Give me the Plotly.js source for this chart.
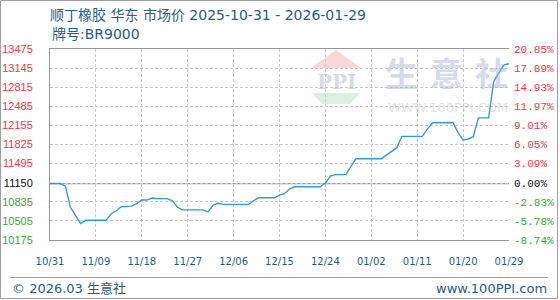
<!DOCTYPE html>
<html><head><meta charset="utf-8">
<script src="https://cdn.plot.ly/plotly-3.0.1.min.js"></script>
<style>html,body{margin:0;padding:0;background:#fff}#chart{width:560px;height:300px}</style>
</head><body><div id="chart"></div>
<script>
// ---- data ----
const dates = ['2025-10-31','2025-11-02','2025-11-03','2025-11-04','2025-11-05','2025-11-06','2025-11-07','2025-11-11','2025-11-12','2025-11-13','2025-11-14','2025-11-16','2025-11-17','2025-11-18','2025-11-19','2025-11-20','2025-11-21','2025-11-23','2025-11-24','2025-11-25','2025-11-26','2025-11-30','2025-12-01','2025-12-02','2025-12-03','2025-12-04','2025-12-09','2025-12-10','2025-12-11','2025-12-14','2025-12-15','2025-12-16','2025-12-17','2025-12-18','2025-12-23','2025-12-24','2025-12-25','2025-12-26','2025-12-28','2025-12-29','2025-12-30','2026-01-04','2026-01-05','2026-01-06','2026-01-07','2026-01-08','2026-01-12','2026-01-13','2026-01-14','2026-01-18','2026-01-19','2026-01-20','2026-01-21','2026-01-22','2026-01-23','2026-01-25','2026-01-26','2026-01-27','2026-01-28','2026-01-29'];
const prices = [11150,11150,11110,10740,10600,10460,10515,10515,10630,10680,10750,10760,10805,10865,10865,10900,10890,10890,10850,10740,10695,10695,10660,10780,10810,10790,10790,10860,10905,10905,10950,10975,11060,11095,11095,11160,11280,11305,11305,11450,11580,11580,11640,11700,11770,11965,11965,12090,12200,12205,12030,11905,11920,11960,12285,12285,12910,13060,13200,13220];
const basePrice = 11150;
const yTickVals = [10175,10505,10835,11150,11495,11825,12155,12485,12815,13145,13475];
const pctLabels = ['-8.74%','-5.78%','-2.83%','0.00%','3.09%','6.05%','9.01%','11.97%','14.93%','17.89%','20.85%'];
const xTickVals = ['2025-10-31','2025-11-09','2025-11-18','2025-11-27','2025-12-06','2025-12-15','2025-12-24','2026-01-02','2026-01-11','2026-01-20','2026-01-29'];
const xTickLabels = ['10/31','11/09','11/18','11/27','12/06','12/15','12/24','01/02','01/11','01/20','01/29'];
const titleText = '顺丁橡胶 华东 市场价 2025-10-31 - 2026-01-29';
const subTitle = '牌号:BR9000';

// ---- styling helpers ----
const RED = '#f03a3a', GREEN = '#36a936', BLACK = '#111', BLUE_TXT = '#1d5d8c';
function col(v){ return v > basePrice ? RED : (v < basePrice ? GREEN : BLACK); }
const leftText = yTickVals.map(v => '<span style="color:' + col(v) + '">' + v + '</span>');
const rightText = yTickVals.map((v,i) => '<span style="color:' + col(v) + '">' + pctLabels[i] + '</span>');

const W = 560, H = 300, L = 50, R = 509, T = 49, B = 240;
const px = x => (x - L) / (R - L);
const py = y => (B - y) / (B - T);

const trace = {
  x: dates, y: prices, type: 'scatter', mode: 'lines',
  line: {color: '#3a97d6', width: 1.4}, hoverinfo: 'skip', showlegend: false
};
const trace2 = {
  x: dates, y: prices, type: 'scatter', mode: 'lines', yaxis: 'y2',
  line: {color: 'rgba(0,0,0,0)', width: 0}, hoverinfo: 'skip', showlegend: false
};

const wm = 'rgba(160,174,212,0.45)';
function wmText(t, x, y, size, fam, color, weight){
  return {text: t, xref: 'paper', yref: 'paper', x: px(x), y: py(y), xanchor: 'center', yanchor: 'middle',
          showarrow: false, font: {family: fam, size: size, color: color, weight: weight || 'normal'}};
}
const layout = {
  width: W, height: H,
  margin: {l: L, r: W - R, t: T, b: H - B, pad: 0},
  paper_bgcolor: '#fff', plot_bgcolor: '#fff',
  showlegend: false,
  title: {text: titleText, x: L / W, xanchor: 'left', xref: 'container', y: 1 - 15 / H, yanchor: 'middle',
          font: {family: 'DejaVu Sans, Noto Sans CJK SC, sans-serif', size: 14, color: BLUE_TXT}},
  xaxis: {
    type: 'date', range: ['2025-10-31', '2026-01-29'],
    tickmode: 'array', tickvals: xTickVals, ticktext: xTickLabels,
    showgrid: true, gridcolor: '#c8c8c8', griddash: '3px,2px', gridwidth: 1,
    showline: true, linecolor: '#999', linewidth: 1, mirror: true,
    ticks: '', ticklabelstandoff: 12, zeroline: false,
    tickfont: {family: 'DejaVu Sans, sans-serif', size: 10, color: BLUE_TXT},
    fixedrange: true
  },
  yaxis: {
    range: [10175, 13475], tickmode: 'array', tickvals: yTickVals, ticktext: leftText,
    showgrid: true, gridcolor: '#c8c8c8', griddash: '3px,2px', gridwidth: 1,
    showline: true, linecolor: '#999', linewidth: 1,
    ticks: '', ticklabelstandoff: 14, zeroline: false,
    tickfont: {family: 'Liberation Sans, Arial, sans-serif', size: 11},
    fixedrange: true
  },
  yaxis2: {
    range: [10175, 13475], overlaying: 'y', side: 'right', anchor: 'x',
    tickmode: 'array', tickvals: yTickVals, ticktext: rightText,
    showgrid: false, showline: false, zeroline: false, ticks: '', ticklabelstandoff: 4,
    tickfont: {family: 'Liberation Mono, DejaVu Sans Mono, monospace', size: 11},
    fixedrange: true
  },
  shapes: [
    {type: 'line', xref: 'paper', yref: 'y', x0: 0, x1: 1, y0: basePrice, y1: basePrice,
     line: {color: '#999', width: 1.2}, layer: 'below'},
    {type: 'path', xref: 'paper', yref: 'paper', layer: 'below',
     path: 'M ' + px(336) + ' ' + py(50) + ' L ' + px(361) + ' ' + py(68) + ' L ' + px(311) + ' ' + py(68) + ' Z',
     fillcolor: 'rgba(240,140,140,0.35)', line: {width: 0}},
    {type: 'path', xref: 'paper', yref: 'paper', layer: 'below',
     path: 'M ' + px(312) + ' ' + py(93) + ' L ' + px(360) + ' ' + py(93) + ' L ' + px(350) + ' ' + py(104) + ' L ' + px(322) + ' ' + py(104) + ' Z',
     fillcolor: 'rgba(140,210,150,0.32)', line: {width: 0}},
    {type: 'line', xref: 'paper', yref: 'paper', x0: px(10), x1: px(548), y0: py(277.5), y1: py(277.5),
     line: {color: '#a0a0a0', width: 1}},
    {type: 'rect', xref: 'paper', yref: 'paper', x0: px(0.5), x1: px(557.5), y0: py(298.5), y1: py(0.5),
     line: {color: '#a0a0a0', width: 1}}
  ],
  annotations: [
    {text: subTitle, xref: 'paper', yref: 'paper', x: px(50), y: py(34), xanchor: 'left', yanchor: 'middle',
     showarrow: false, font: {family: 'DejaVu Sans, Noto Sans CJK SC, sans-serif', size: 14, color: BLUE_TXT}},
    wmText('PPI', 336, 82, 20, 'DejaVu Serif, serif', wm, 'bold'),
    wmText('生', 401, 72, 33, 'Noto Sans CJK SC', wm, 'bold'),
    wmText('意', 446, 72, 33, 'Noto Sans CJK SC', wm, 'bold'),
    wmText('社', 491, 72, 33, 'Noto Sans CJK SC', wm, 'bold'),
    wmText('WWW.100PPI.COM', 448, 107, 13, 'DejaVu Sans, sans-serif', 'rgba(190,190,190,0.45)'),
    {text: '© 2026.03 生意社', xref: 'paper', yref: 'paper', x: px(10), y: py(288), xanchor: 'left', yanchor: 'middle',
     showarrow: false, font: {family: 'DejaVu Sans, Noto Sans CJK SC, sans-serif', size: 13, color: BLUE_TXT}},
    {text: 'www.100PPI.com', xref: 'paper', yref: 'paper', x: px(549), y: py(288), xanchor: 'right', yanchor: 'middle',
     showarrow: false, font: {family: 'DejaVu Sans, sans-serif', size: 13, color: BLUE_TXT}}
  ]
};

Plotly.newPlot('chart', [trace, trace2], layout, {displayModeBar: false, staticPlot: true});
</script>
</body></html>
